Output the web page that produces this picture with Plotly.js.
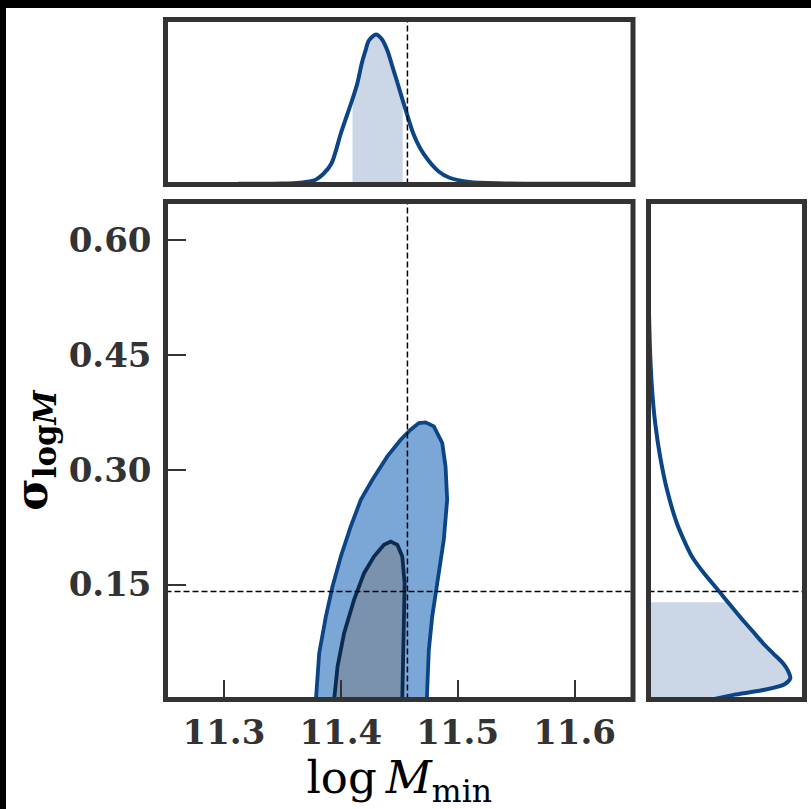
<!DOCTYPE html>
<html><head><meta charset="utf-8">
<script src="https://cdn.plot.ly/plotly-3.0.1.min.js"></script>
<style>
html,body{margin:0;padding:0;background:#000;width:811px;height:809px;overflow:hidden}
#chart{position:absolute;left:6px;top:8px;width:805px;height:801px;background:#fff}
</style>
</head><body><div id="chart"></div>
<script>
// ---- data ----
const logMminGrid    = [11.312, 11.350, 11.365, 11.378, 11.385, 11.392, 11.400, 11.405, 11.410, 11.414, 11.418, 11.421, 11.424, 11.430, 11.435, 11.440, 11.444, 11.448, 11.453, 11.457, 11.462, 11.468, 11.475, 11.484, 11.493, 11.510, 11.540, 11.622];
const logMminDensity = [0.005, 0.006, 0.012, 0.03, 0.07, 0.14, 0.34, 0.455, 0.57, 0.67, 0.81, 0.89, 0.96, 1.0, 0.97, 0.89, 0.79, 0.69, 0.56, 0.46, 0.34, 0.24, 0.16, 0.085, 0.045, 0.016, 0.007, 0.005];
const logMminInterval = [11.410, 11.453];

const sigmaGrid    = [0.0, 0.006, 0.012, 0.020, 0.028, 0.037, 0.047, 0.060, 0.073, 0.090, 0.108, 0.127, 0.143, 0.165, 0.187, 0.210, 0.230, 0.274, 0.317, 0.361, 0.40, 0.45, 0.50];
const sigmaDensity = [0.45, 0.60, 0.80, 0.96, 1.0, 0.985, 0.95, 0.88, 0.81, 0.73, 0.645, 0.56, 0.49, 0.39, 0.305, 0.245, 0.20, 0.13, 0.082, 0.047, 0.027, 0.012, 0.004];
const sigmaInterval = [0.0, 0.127];

const outerX = [11.3787, 11.3815, 11.3872, 11.3929, 11.4000, 11.4085, 11.4171, 11.4270, 11.4398, 11.4512, 11.4597, 11.4668, 11.4725, 11.4796, 11.4868, 11.4896, 11.4910, 11.4881, 11.4825, 11.4782, 11.4753, 11.4736];
const outerY = [0, 0.0604, 0.1082, 0.1474, 0.1866, 0.2258, 0.2607, 0.2868, 0.3173, 0.3391, 0.3522, 0.3609, 0.3617, 0.3565, 0.3348, 0.3042, 0.2607, 0.2084, 0.1518, 0.1082, 0.0647, 0];
const innerX = [11.3943, 11.3972, 11.4028, 11.4113, 11.4199, 11.4284, 11.4369, 11.4427, 11.4484, 11.4526, 11.4546, 11.4540, 11.4535, 11.4526];
const innerY = [0, 0.0429, 0.0865, 0.1300, 0.1649, 0.1866, 0.2019, 0.2062, 0.2019, 0.1866, 0.1518, 0.1082, 0.0647, 0];

const truthLogMmin = 11.457;
const truthSigma = 0.141;

const xTickVals = [11.3, 11.4, 11.5, 11.6];
const xTickText = ['11.3', '11.4', '11.5', '11.6'];
const yTickVals = [0.15, 0.30, 0.45, 0.60];
const yTickText = ['0.15', '0.30', '0.45', '0.60'];

// ---- styles ----
const curveColor = '#0c4585';
const shadeColor = '#cbd7e6';
const frameColor = '#333333';

const shadeTopX = [], shadeTopY = [];
logMminGrid.forEach((v, i) => { if (v >= logMminInterval[0] && v <= logMminInterval[1]) { shadeTopX.push(v); shadeTopY.push(logMminDensity[i]); } });
const shadeRightX = [], shadeRightY = [];
sigmaGrid.forEach((v, i) => { if (v >= sigmaInterval[0] && v <= sigmaInterval[1]) { shadeRightY.push(v); shadeRightX.push(sigmaDensity[i]); } });

const traces = [
  {x: outerX, y: outerY, xaxis: 'x', yaxis: 'y', mode: 'lines', fill: 'toself', fillcolor: '#7ba7d7',
   line: {color: '#0c4585', width: 3.8}, hoverinfo: 'skip'},
  {x: innerX, y: innerY, xaxis: 'x', yaxis: 'y', mode: 'lines', fill: 'toself', fillcolor: '#7a92ae',
   line: {color: '#0b2c4f', width: 3.8}, hoverinfo: 'skip'},
  {x: shadeTopX, y: shadeTopY, xaxis: 'x', yaxis: 'y2', mode: 'lines', fill: 'tozeroy', fillcolor: shadeColor,
   line: {width: 0, shape: 'spline', smoothing: 0.8}, hoverinfo: 'skip'},
  {x: logMminGrid, y: logMminDensity, xaxis: 'x', yaxis: 'y2', mode: 'lines',
   line: {color: curveColor, width: 4, shape: 'spline', smoothing: 0.8}, hoverinfo: 'skip'},
  {x: shadeRightX, y: shadeRightY, xaxis: 'x2', yaxis: 'y', mode: 'lines', fill: 'tozerox', fillcolor: shadeColor,
   line: {width: 0, shape: 'spline', smoothing: 0.8}, hoverinfo: 'skip'},
  {x: sigmaDensity, y: sigmaGrid, xaxis: 'x2', yaxis: 'y', mode: 'lines',
   line: {color: curveColor, width: 4, shape: 'spline', smoothing: 0.8}, hoverinfo: 'skip'}
];

const tickFont = {family: 'DejaVu Serif', size: 34, color: '#333333', weight: 'bold'};
const dashLine = {color: '#000', width: 1.5, dash: '6px,3px'};

const layout = {
  width: 805, height: 801,
  margin: {l: 0, r: 0, t: 0, b: 0},
  paper_bgcolor: '#fff', plot_bgcolor: '#fff',
  showlegend: false,
  xaxis: {domain: [0.19814, 0.77888], range: [11.25, 11.65], anchor: 'y',
    tickmode: 'array', tickvals: xTickVals, ticktext: xTickText,
    ticks: 'inside', ticklen: 20, tickwidth: 2, tickcolor: frameColor, ticklabelstandoff: 9,
    showgrid: false, zeroline: false, showline: false, tickfont: tickFont,
    title: {text: 'log\u2009<i>M</i><sub>min</sub>', font: {family: 'DejaVu Serif', size: 45, color: '#000'}, standoff: 4},
    automargin: false},
  yaxis: {domain: [0.13670, 0.75843], range: [0, 0.65], anchor: 'x',
    tickmode: 'array', tickvals: yTickVals, ticktext: yTickText,
    ticks: 'inside', ticklen: 20, tickwidth: 2, tickcolor: frameColor, ticklabelstandoff: 13,
    showgrid: false, zeroline: false, showline: false, tickfont: tickFont,
    title: {text: '<b>σ<sub>log<i>M</i></sub></b>', font: {family: 'DejaVu Serif', size: 44, color: '#000'}, standoff: 8},
    automargin: false},
  yaxis2: {domain: [0.77965, 0.98564], range: [0, 1.1], anchor: 'x',
    showticklabels: false, ticks: '', showgrid: false, zeroline: false, showline: false},
  xaxis2: {domain: [0.79814, 0.99193], range: [0, 1.1], anchor: 'y',
    showticklabels: false, ticks: '', showgrid: false, zeroline: false, showline: false},
  shapes: [
    {type: 'line', xref: 'x', yref: 'y domain', x0: truthLogMmin, x1: truthLogMmin, y0: 0, y1: 1, line: dashLine},
    {type: 'line', xref: 'x', yref: 'y2 domain', x0: truthLogMmin, x1: truthLogMmin, y0: 0, y1: 1, line: dashLine},
    {type: 'line', xref: 'x domain', yref: 'y', x0: 0, x1: 1, y0: truthSigma, y1: truthSigma, line: dashLine},
    {type: 'line', xref: 'x2 domain', yref: 'y', x0: 0, x1: 1, y0: truthSigma, y1: truthSigma, line: dashLine},
    {type: 'rect', xref: 'x domain', yref: 'y domain', x0: 0, x1: 1, y0: 0, y1: 1, line: {color: frameColor, width: 5}},
    {type: 'rect', xref: 'x domain', yref: 'y2 domain', x0: 0, x1: 1, y0: 0, y1: 1, line: {color: frameColor, width: 5}},
    {type: 'rect', xref: 'x2 domain', yref: 'y domain', x0: 0, x1: 1, y0: 0, y1: 1, line: {color: frameColor, width: 5}}
  ]
};

Plotly.newPlot('chart', traces, layout, {staticPlot: true, displayModeBar: false});
</script></body></html>
